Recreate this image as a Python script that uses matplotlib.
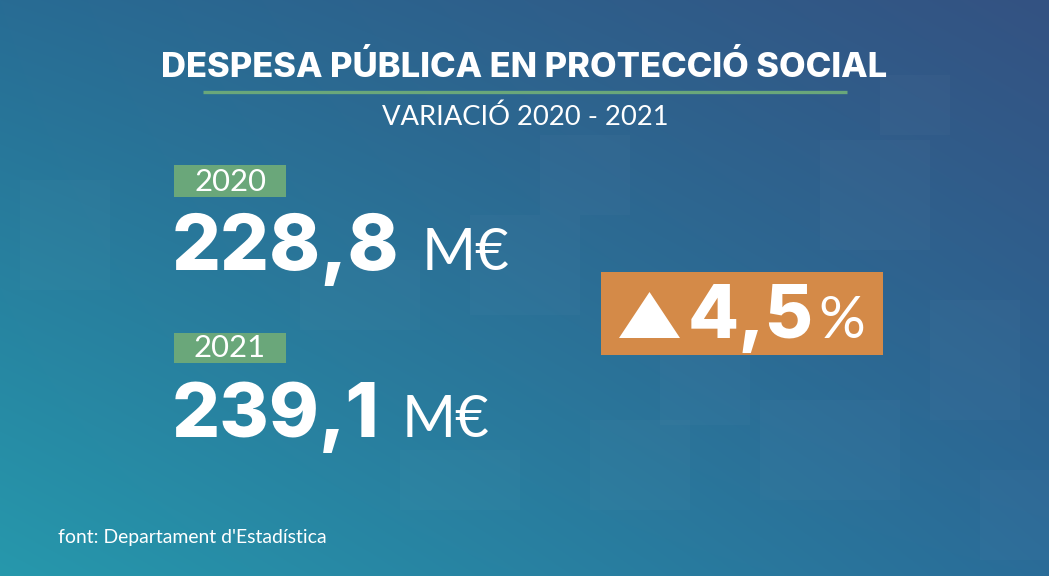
import matplotlib
matplotlib.use('Agg')
import numpy as np
import matplotlib.pyplot as plt
from matplotlib.patches import Rectangle, Polygon

W, H = 1049, 576

title = 'DESPESA PÚBLICA EN PROTECCIÓ SOCIAL'
subtitle = 'VARIACIÓ 2020 - 2021'
years = ['2020', '2021']
values = ['228,8', '239,1']
unit = 'M€'
change = '4,5'
source = "font: Departament d'Estadística"

green = '#6aa77a'
orange = '#d48a48'
bold_font = 'Inter'

fig = plt.figure(figsize=(W / 100, H / 100), dpi=100)
ax = fig.add_axes([0, 0, 1, 1])
ax.set_xlim(0, W)
ax.set_ylim(H, 0)
ax.axis('off')

# background gradient (bilinear between corner colours)
tl = np.array([40, 108, 148]) / 255
tr = np.array([52, 82, 130]) / 255
bl = np.array([38, 152, 172]) / 255
br = np.array([42, 108, 152]) / 255
u = np.linspace(0, 1, W)[None, :, None]
v = np.linspace(0, 1, H)[:, None, None]
img = (1 - u) * (1 - v) * tl + u * (1 - v) * tr + (1 - u) * v * bl + u * v * br
ax.imshow(img, extent=[0, W, H, 0], aspect='auto', zorder=0)

# faint squares texture
squares = [(880, 75, 70, 60), (820, 140, 110, 110), (540, 135, 90, 80), (470, 215, 110, 100),
           (660, 345, 90, 80), (760, 400, 140, 100), (930, 300, 90, 120), (300, 260, 120, 70),
           (20, 180, 90, 110), (590, 420, 100, 90), (980, 470, 70, 90), (400, 450, 120, 60)]
for x, y, w, h in squares:
    ax.add_patch(Rectangle((x, y), w, h, color='white', alpha=0.018, lw=0, zorder=1))

def fit_text(x, y, s, width, ha='left', **kw):
    t = ax.text(x, y, s, ha=ha, va='baseline', color='white', zorder=5, **kw)
    r = fig.canvas.get_renderer()
    bb = t.get_window_extent(renderer=r)
    t.set_fontsize(t.get_fontsize() * width / bb.width)
    return t

fit_text(524, 77, title, 727, ha='center', fontsize=24, fontweight='heavy', family=bold_font)
ax.plot([203, 847], [92, 92], color=green, lw=2.4, solid_capstyle='butt', zorder=4)
fit_text(525, 125, subtitle, 286, ha='center', fontsize=17, family='Lato')

label_y = [(165, 197), (333, 363)]
num_base = [270, 437]
num_w = [228, 208]
for i in range(2):
    y0, y1 = label_y[i]
    ax.add_patch(Rectangle((174, y0), 112, y1 - y0, color=green, lw=0, zorder=3))
    fit_text(230, y1 - 6, years[i], 72, ha='center', fontsize=18, family='Lato')
    t = fit_text(172, num_base[i], values[i], num_w[i], fontsize=60, fontweight='heavy', family=bold_font)
    r = fig.canvas.get_renderer()
    bb = t.get_window_extent(renderer=r)
    xe = ax.transData.inverted().transform((bb.x1, bb.y0))[0]
    fit_text(xe + 22, num_base[i], unit, 88, fontsize=40, family='Lato')

# change box
ax.add_patch(Rectangle((601, 272), 282, 83, color=orange, lw=0, zorder=3))
ax.add_patch(Polygon([(619, 338), (680, 338), (649.5, 292)], closed=True, color='white', lw=0, zorder=5))
fit_text(688, 338, change, 126, fontsize=50, fontweight='heavy', family=bold_font)
fit_text(818, 338, '%', 47, fontsize=36, family='Lato')

fit_text(58, 543, source, 270, fontsize=11.5, family='Lato')

fig.savefig('out.png', dpi=100)
